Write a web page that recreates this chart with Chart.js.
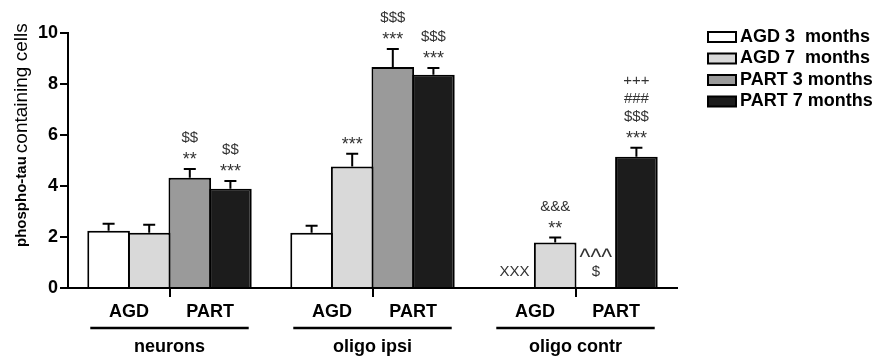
<!DOCTYPE html>
<html>
<head>
<meta charset="utf-8">
<script src="https://cdn.jsdelivr.net/npm/chart.js@4.4.1/dist/chart.umd.min.js"></script>
<style>
html, body { margin: 0; padding: 0; background: #fff; }
</style>
</head>
<body>
<canvas id="myChart" width="875" height="358"></canvas>
<script>
// groups on the x axis and the two sub labels under each group
var groups = ['neurons', 'oligo ipsi', 'oligo contr'];
var subGroups = ['AGD', 'PART'];
var seriesNames = ['AGD 3  months', 'AGD 7  months', 'PART 3 months', 'PART 7 months'];
var seriesColors = ['#ffffff', '#d9d9d9', '#9a9a9a', '#1c1c1c'];

// means (null = no bar)
var agd3 = [2.25, 2.17, null];
var agd7 = [2.17, 4.76, 1.78];
var part3 = [4.32, 8.67, null];
var part7 = [3.89, 8.36, 5.15];

// error bars (SEM)
var agd3Err = [0.27, 0.27, 0];
var agd7Err = [0.31, 0.50, 0.20];
var part3Err = [0.35, 0.70, 0];
var part7Err = [0.31, 0.27, 0.35];

// significance marks, listed from bottom to top
var agd3Sig = [[], [], ['XXX']];
var agd7Sig = [[], ['***'], ['**', '&&&']];
var part3Sig = [['**', '$$'], ['***', '$$$'], ['$', '^^^']];
var part7Sig = [['***', '$$'], ['***', '$$$'], ['***', '$$$', '###', '+++']];

var yMin = 0, yMax = 10, yStep = 2;

var FONT = '"Liberation Sans", Arial, sans-serif';

//======================================================
function makeSet(i, data, err, sig) {
	return {
		label: seriesNames[i],
		data: data,
		err: err,
		sig: sig,
		backgroundColor: seriesColors[i],
		borderColor: '#000',
		borderWidth: 2,
		borderSkipped: 'bottom',
		barPercentage: 1.05,
		categoryPercentage: 0.8
	};
}

// error bars + significance marks
var marksPlugin = {
	id: 'marks',
	afterDatasetsDraw: function(chart) {
		var ctx = chart.ctx;
		var y = chart.scales.y;
		ctx.save();
		chart.data.datasets.forEach(function(ds, i) {
			var meta = chart.getDatasetMeta(i);
			meta.data.forEach(function(bar, j) {
				var v = ds.data[j];
				var base;
				var first;
				if (v == null) {
					base = y.getPixelForValue(0);
					first = base - 17;
				} else {
					base = y.getPixelForValue(v + ds.err[j]);
					first = base - 14;
					ctx.strokeStyle = '#000';
					ctx.lineWidth = 2;
					ctx.beginPath();
					ctx.moveTo(bar.x, bar.y);
					ctx.lineTo(bar.x, base);
					ctx.moveTo(bar.x - 6, base);
					ctx.lineTo(bar.x + 6, base);
					ctx.stroke();
				}
				ctx.fillStyle = '#333';
				ctx.textAlign = 'center';
				ctx.textBaseline = 'alphabetic';
				ds.sig[j].forEach(function(t, k) {
					var star = t.charAt(0) === '*';
					var caret = t.charAt(0) === '^';
					var size = star ? 18 : (caret ? 23 : 15);
					var lift = star ? 0.57 : (caret ? 0.52 : 0.36);
					ctx.font = size + 'px ' + FONT;
					ctx.fillText(t, bar.x, first - 18 * k + lift * size);
				});
			});
		});
		ctx.restore();
	}
};

// group labels under the axis, y title, legend
var decoPlugin = {
	id: 'deco',
	afterDraw: function(chart) {
		var ctx = chart.ctx;
		var area = chart.chartArea;
		var m0 = chart.getDatasetMeta(0).data;
		var m1 = chart.getDatasetMeta(1).data;
		var m2 = chart.getDatasetMeta(2).data;
		var m3 = chart.getDatasetMeta(3).data;
		ctx.save();
		ctx.fillStyle = '#000';
		ctx.strokeStyle = '#000';
		ctx.textAlign = 'center';
		ctx.textBaseline = 'middle';
		ctx.font = 'bold 18px ' + FONT;
		groups.forEach(function(g, j) {
			var w = m0[j].width;
			var left = m0[j].x - w / 2;
			var right = m3[j].x + w / 2;
			ctx.fillText(subGroups[0], (m0[j].x + m1[j].x) / 2, area.bottom + 24);
			ctx.fillText(subGroups[1], (m2[j].x + m3[j].x) / 2, area.bottom + 24);
			ctx.lineWidth = 2.5;
			ctx.beginPath();
			ctx.moveTo(left + 3, area.bottom + 40);
			ctx.lineTo(right - 3, area.bottom + 40);
			ctx.stroke();
			ctx.fillText(g, (left + right) / 2, area.bottom + 59);
		});

		// y title: bold part + regular part
		ctx.save();
		ctx.translate(22, 247);
		ctx.rotate(-Math.PI / 2);
		ctx.textAlign = 'left';
		ctx.font = 'bold 15px ' + FONT;
		ctx.fillText('phospho-tau', 0, 0);
		var wb = ctx.measureText('phospho-tau').width + 3;
		ctx.font = '19px ' + FONT;
		ctx.fillText('containing cells', wb, 0);
		ctx.restore();

		// legend
		ctx.textAlign = 'left';
		ctx.font = 'bold 18px ' + FONT;
		chart.data.datasets.forEach(function(ds, i) {
			var cy = 37 + i * 21.5;
			ctx.fillStyle = ds.backgroundColor;
			ctx.fillRect(708, cy - 5, 28, 10);
			ctx.lineWidth = 2;
			ctx.strokeRect(708, cy - 5, 28, 10);
			ctx.fillStyle = '#000';
			ctx.fillText(ds.label, 740, cy);
		});
		ctx.restore();
	}
};

function drawBarChart() {
	var myData = {
		labels: groups,
		datasets: [
			makeSet(0, agd3, agd3Err, agd3Sig),
			makeSet(1, agd7, agd7Err, agd7Sig),
			makeSet(2, part3, part3Err, part3Sig),
			makeSet(3, part7, part7Err, part7Sig)
		]
	};

	var myConfig = {
		type: 'bar',
		data: myData,
		plugins: [marksPlugin, decoPlugin],
		options: {
			responsive: false,
			animation: false,
			devicePixelRatio: 1,
			layout: { padding: { top: 33, right: 198, bottom: 0, left: 0 } },
			plugins: {
				legend: { display: false },
				tooltip: { enabled: false }
			},
			scales: {
				x: {
					ticks: { display: false },
					grid: { display: true, offset: false, drawOnChartArea: false, drawTicks: true, tickLength: 9, color: '#000', lineWidth: 2 },
					border: { display: true, color: '#000', width: 2 },
					afterFit: function(s) { s.height = 70; }
				},
				y: {
					min: yMin,
					max: yMax,
					ticks: { stepSize: yStep, padding: 2, color: '#000', font: { family: FONT, size: 18, weight: 'bold' } },
					grid: { display: true, drawOnChartArea: false, drawTicks: true, tickLength: 8, color: '#000', lineWidth: 2 },
					border: { display: true, color: '#000', width: 2 },
					afterFit: function(s) { s.width = 68; }
				}
			}
		}
	};

	var ctx1 = document.getElementById('myChart').getContext('2d');
	var myBar = new Chart(ctx1, myConfig);
}

drawBarChart();
</script>
</body>
</html>
